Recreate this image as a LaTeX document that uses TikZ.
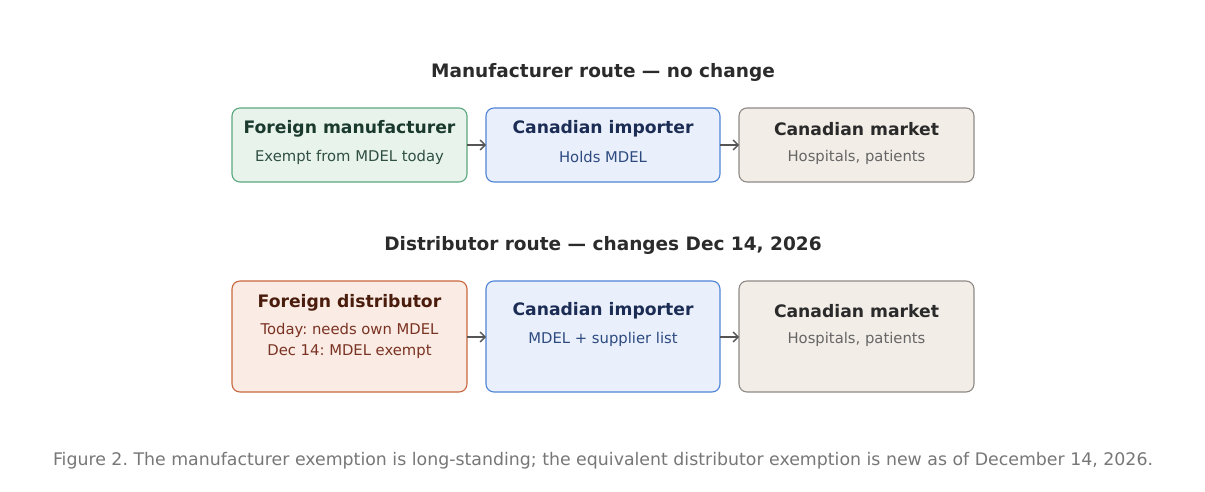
\documentclass[tikz,border=0pt]{standalone}
\usepackage{fontspec}
\setmainfont{DejaVu Sans}
\usetikzlibrary{arrows.meta}
\frenchspacing
\definecolor{gfill}{HTML}{E8F3EC}\definecolor{gdraw}{HTML}{5BA77F}
\definecolor{gtext}{HTML}{1B3A2E}\definecolor{gsub}{HTML}{2F4F42}
\definecolor{bfill}{HTML}{EAF0FB}\definecolor{bdraw}{HTML}{4F84D6}
\definecolor{btext}{HTML}{1C2D55}\definecolor{bsub}{HTML}{2D4A80}
\definecolor{rfill}{HTML}{FAEBE5}\definecolor{rdraw}{HTML}{C8683F}
\definecolor{rtext}{HTML}{4A1C0C}\definecolor{rsub}{HTML}{7A3322}
\definecolor{mfill}{HTML}{F2EDE7}\definecolor{mdraw}{HTML}{8F8A85}
\definecolor{mtext}{HTML}{2A2A2A}\definecolor{msub}{HTML}{666666}
\definecolor{ttext}{HTML}{2B2B2B}\definecolor{ctext}{HTML}{777777}
\definecolor{arr}{HTML}{555555}
\tikzset{
 boxs/.style={rounded corners=8pt, line width=1.1pt},
 head/.style={font=\fontsize{17.2}{20}\selectfont\bfseries, anchor=center, inner sep=0pt, yshift=-2pt},
 sub/.style={font=\fontsize{14.8}{17}\selectfont, anchor=center, inner sep=0pt, yshift=-2pt},
 ttl/.style={font=\fontsize{18.5}{22}\selectfont\bfseries, text=ttext, inner sep=0pt, yshift=-2pt},
 con/.style={-{Straight Barb[length=5pt,width=10pt]}, draw=arr, line width=1.3pt},
}
\begin{document}
\begin{tikzpicture}[x=1pt,y=-1pt]
\useasboundingbox[fill=white] (0,0) rectangle (1205,492);
\node[ttl] (t1) at (603,70) {Manufacturer route — no change};
\node[ttl] (t2) at (603,243) {Distributor route — changes Dec 14, 2026};
% row 1
\draw[boxs, fill=gfill, draw=gdraw] (232,108) rectangle (467,182);
\coordinate (a1) at (467,145);
\node[head, text=gtext] (a1h) at (349.5,127) {Foreign manufacturer};
\node[sub, text=gsub] (a1s) at (349.5,155) {Exempt from MDEL today};
\draw[boxs, fill=bfill, draw=bdraw] (486,108) rectangle (720,182);
\coordinate (b1l) at (486,145); \coordinate (b1r) at (720,145);
\node[head, text=btext] (b1h) at (603,127) {Canadian importer};
\node[sub, text=bsub] (b1s) at (603,155) {Holds MDEL};
\draw[boxs, fill=mfill, draw=mdraw] (739,108) rectangle (974,182);
\coordinate (c1l) at (739,145);
\node[head, text=mtext] (c1h) at (856.5,127) {Canadian market};
\node[sub, text=msub] (c1s) at (856.5,155) {Hospitals, patients};
\draw[con] (a1) -- (b1l);
\draw[con] (b1r) -- (c1l);
% row 2
\draw[boxs, fill=rfill, draw=rdraw] (232,281) rectangle (467,392);
\coordinate (a2) at (467,337);
\node[head, text=rtext] (a2h) at (349.5,301) {Foreign distributor};
\node[sub, text=rsub] (a2s) at (349.5,328) {Today: needs own MDEL};
\node[sub, text=rsub] (a2t) at (349.5,350) {Dec 14: MDEL exempt};
\draw[boxs, fill=bfill, draw=bdraw] (486,281) rectangle (720,392);
\coordinate (b2l) at (486,337); \coordinate (b2r) at (720,337);
\node[head, text=btext] (b2h) at (603,309) {Canadian importer};
\node[sub, text=bsub] (b2s) at (603,337) {MDEL + supplier list};
\draw[boxs, fill=mfill, draw=mdraw] (739,281) rectangle (974,392);
\coordinate (c2l) at (739,337);
\node[head, text=mtext] (c2h) at (856.5,309) {Canadian market};
\node[sub, text=msub] (c2s) at (856.5,337) {Hospitals, patients};
\draw[con] (a2) -- (b2l);
\draw[con] (b2r) -- (c2l);
\node[font=\fontsize{17.35}{20}\selectfont, text=ctext, inner sep=0pt, yshift=-2pt] (cap) at (603,459) {Figure 2. The manufacturer exemption is long-standing; the equivalent distributor exemption is new as of December 14, 2026.};
\end{tikzpicture}
\end{document}
